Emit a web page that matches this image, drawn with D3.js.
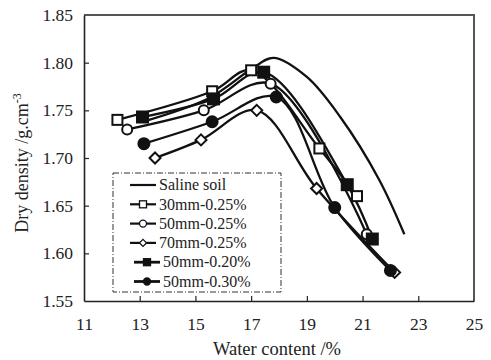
<!DOCTYPE html>
<html>
<head>
<meta charset="utf-8">
<script src="https://cdn.jsdelivr.net/npm/d3@7"></script>
<style>
  body { margin: 0; background: #fff; }
</style>
</head>
<body>
<svg></svg>
<script>
let svgWidth = 491
let svgHeight = 360
let margin = { left: 84, right: 17, top: 15, bottom: 59 }
let serif = "'Liberation Serif', 'Times New Roman', Times, serif"

let xTicks = [11, 13, 15, 17, 19, 21, 23, 25]
let yTicks = [1.55, 1.60, 1.65, 1.70, 1.75, 1.80, 1.85]

/* series: [water content, dry density] */
let salineSoil = [[13.1, 1.738], [15.5, 1.763], [17.0, 1.793], [17.8, 1.805], [19.0, 1.785], [20.2, 1.743], [21.6, 1.677], [22.5, 1.62]]
let s30mm025 = [[12.2, 1.74], [15.6, 1.77], [17.0, 1.792], [19.45, 1.71], [20.8, 1.66]]
let s50mm025 = [[12.55, 1.73], [15.3, 1.75], [17.7, 1.778], [21.15, 1.62]]
let s70mm025 = [[13.55, 1.70], [15.2, 1.719], [17.2, 1.75], [19.35, 1.668], [22.15, 1.58]]
let s50mm020 = [[13.1, 1.743], [15.65, 1.762], [17.45, 1.79], [20.45, 1.672], [21.35, 1.615]]
let s50mm030 = [[13.15, 1.715], [15.6, 1.738], [17.9, 1.764], [20.0, 1.648], [22.0, 1.582]]

let series = [
  { name: 'Saline soil', data: salineSoil, marker: null },
  { name: '30mm-0.25%', data: s30mm025, marker: 'square', fill: '#fff' },
  { name: '50mm-0.25%', data: s50mm025, marker: 'circle', fill: '#fff' },
  { name: '70mm-0.25%', data: s70mm025, marker: 'diamond', fill: '#fff' },
  { name: '50mm-0.20%', data: s50mm020, marker: 'square', fill: '#111' },
  { name: '50mm-0.30%', data: s50mm030, marker: 'circle', fill: '#111' }
]

let svg = d3.select('svg')
    .attr('width', svgWidth)
    .attr('height', svgHeight)

let xScale = d3.scaleLinear()
    .domain([11, 25])
    .range([margin.left, svgWidth - margin.right])
let yScale = d3.scaleLinear()
    .domain([1.55, 1.85])
    .range([svgHeight - margin.bottom, margin.top])

/* frame (top and right) */
svg.append('path')
    .attr('d', `M${xScale(11)},${yScale(1.85)}H${xScale(25)}V${yScale(1.55)}`)
    .attr('fill', 'none')
    .attr('stroke', '#555')
    .attr('stroke-width', 2)

/* Axes */
let xAxis = d3.axisBottom(xScale).tickValues(xTicks).tickSizeInner(-5).tickSizeOuter(0).tickPadding(17)
let yAxis = d3.axisLeft(yScale).tickValues(yTicks).tickSizeInner(-5).tickSizeOuter(0).tickPadding(11)
  .tickFormat(d3.format('.2f'))

let gx = svg.append('g')
    .attr('transform', `translate(0, ${yScale(1.55)})`)
    .call(xAxis)
let gy = svg.append('g')
    .attr('transform', `translate(${xScale(11)}, 0)`)
    .call(yAxis)

for (let g of [gx, gy]) {
  g.attr('font-family', serif).attr('font-size', 17.5)
  g.select('.domain').attr('stroke', '#222').attr('stroke-width', 1.6)
  g.selectAll('.tick line').attr('stroke', '#222').attr('stroke-width', 1.2)
  g.selectAll('.tick text').attr('fill', '#222')
}
gx.selectAll('.tick').filter(d => d === 11 || d === 25).select('line').remove()
gy.selectAll('.tick').filter(d => d === 1.55 || d === 1.85).select('line').remove()

/* Axis titles */
svg.append('text')
    .attr('x', 277)
    .attr('y', 355)
    .attr('font-family', serif)
    .attr('font-size', 18.5)
    .attr('fill', '#222')
    .attr('text-anchor', 'middle')
    .text('Water content /%')

let yTitle = svg.append('text')
    .attr('transform', 'translate(28, 163) rotate(-90)')
    .attr('font-family', serif)
    .attr('font-size', 18)
    .attr('fill', '#222')
    .attr('text-anchor', 'middle')
yTitle.append('tspan').text('Dry density /g.cm')
yTitle.append('tspan').attr('dy', -7).attr('font-size', 12).text('-3')

/* Lines */
let line = d3.line()
    .x(d => xScale(d[0]))
    .y(d => yScale(d[1]))
    .curve(d3.curveCatmullRom.alpha(0.5))

svg.append('g')
  .selectAll('path')
  .data(series)
  .join('path')
    .attr('d', d => line(d.data))
    .attr('fill', 'none')
    .attr('stroke', '#111')
    .attr('stroke-width', 2.3)

/* Markers */
function drawMarker(sel, type, size, fill) {
  if (type === 'square') {
    sel.append('rect')
        .attr('x', -size / 2).attr('y', -size / 2)
        .attr('width', size).attr('height', size)
        .attr('fill', fill).attr('stroke', '#111').attr('stroke-width', 2)
  } else if (type === 'circle') {
    sel.append('circle')
        .attr('r', size / 2)
        .attr('fill', fill).attr('stroke', '#111').attr('stroke-width', 2)
  } else if (type === 'diamond') {
    let h = size / 2
    sel.append('path')
        .attr('d', `M0,${-h}L${h},0L0,${h}L${-h},0Z`)
        .attr('fill', fill).attr('stroke', '#111').attr('stroke-width', 2)
  }
}

series.filter(s => s.marker).forEach(s => {
  let size = s.marker === 'diamond' ? 11 : (s.fill === '#111' ? 11 : 10)
  svg.append('g')
    .selectAll('g')
    .data(s.data)
    .join('g')
      .attr('transform', d => `translate(${xScale(d[0])}, ${yScale(d[1])})`)
      .each(function () { drawMarker(d3.select(this), s.marker, size, s.fill) })
})

/* Legend */
let legend = svg.append('g')
legend.append('rect')
    .attr('x', 113).attr('y', 173)
    .attr('width', 168).attr('height', 119)
    .attr('fill', 'none')
    .attr('stroke', '#333')
    .attr('stroke-width', 1)
    .attr('stroke-dasharray', '6,2,1,2')

series.forEach((s, i) => {
  let filled = s.fill === '#111'
  let x0 = filled ? 134 : 130
  let x1 = filled ? 160 : 156
  let y = 185 + i * 19.3
  let item = legend.append('g').attr('transform', `translate(0, ${y})`)
  item.append('line')
      .attr('x1', x0).attr('x2', x1)
      .attr('stroke', '#111').attr('stroke-width', filled ? 2.8 : 2.2)
  if (s.marker) {
    let g = item.append('g').attr('transform', `translate(${(x0 + x1) / 2}, 0)`)
    drawMarker(g, s.marker, 7, s.fill)
    g.selectAll('*').attr('stroke-width', 1.3)
  }
  item.append('text')
      .attr('x', x1 + 3)
      .attr('dy', '0.33em')
      .attr('font-family', serif)
      .attr('font-size', 16)
      .attr('fill', '#222')
      .text(s.name)
})
</script>
</body>
</html>
